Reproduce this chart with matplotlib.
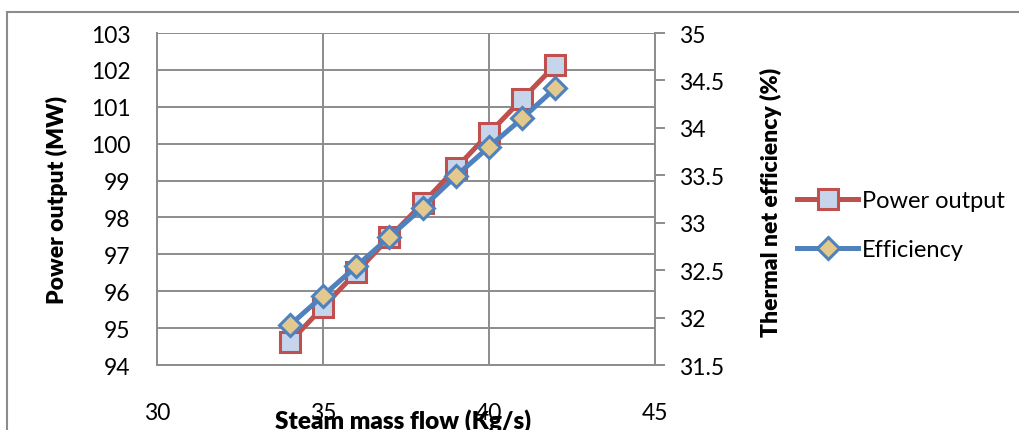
import matplotlib
matplotlib.use("Agg")
import matplotlib.pyplot as plt
from matplotlib.patches import Rectangle

plt.rcParams['font.family'] = ['Lato', 'DejaVu Sans']

# Steam mass flow (kg/s)
steam_flow = [34, 35, 36, 37, 38, 39, 40, 41, 42]
# Power output (MW)
power_output = [94.62, 95.57, 96.51, 97.46, 98.38, 99.33, 100.28, 101.21, 102.13]
# Thermal net efficiency (%)
efficiency = [31.92, 32.23, 32.54, 32.85, 33.16, 33.49, 33.80, 34.10, 34.42]

x_ticks = [30, 35, 40, 45]
power_ticks = list(range(94, 104))
eff_ticks = [31.5, 32, 32.5, 33, 33.5, 34, 34.5, 35]
eff_tick_labels = ['31.5', '32', '32.5', '33', '33.5', '34', '34.5', '35']

W, H = 1019, 431
fig = plt.figure(figsize=(W / 100, H / 100), dpi=100)

grid_col = '#8c8c8c'
red = '#C0504D'
blue = '#4F81BD'

ax = fig.add_axes([157 / W, 1 - 366 / H, (655 - 157) / W, (366 - 34) / H])
ax2 = ax.twinx()

ax.set_xlim(30, 45)
ax.set_ylim(94, 103)
ax2.set_ylim(31.5, 35)
ax.set_xticks(x_ticks)
ax.set_yticks(power_ticks)
ax2.set_yticks(eff_ticks)
ax2.set_yticklabels(eff_tick_labels)

ax.grid(True, color=grid_col, linewidth=1.4)
ax.set_axisbelow(True)

for s in ['top', 'right']:
    ax.spines[s].set_visible(False)
for s in ['left', 'bottom']:
    ax.spines[s].set_color(grid_col)
    ax.spines[s].set_linewidth(1.4)
for s in ['top', 'left', 'bottom']:
    ax2.spines[s].set_visible(False)
ax2.spines['right'].set_color(grid_col)
ax2.spines['right'].set_linewidth(1.4)

ax.tick_params(axis='y', length=0, labelsize=16.5, pad=19)
ax.tick_params(axis='x', length=0, labelsize=16.5, pad=27)
ax2.tick_params(axis='y', length=7, width=1.4, color=grid_col, labelsize=16.5, pad=10)

l1, = ax.plot(steam_flow, power_output, color=red, linewidth=3.6, marker='s',
              markersize=14, markerfacecolor='#C6D5EC', markeredgecolor=red,
              markeredgewidth=2.2, label='Power output', zorder=3)
l2, = ax2.plot(steam_flow, efficiency, color=blue, linewidth=3.6, marker='D',
               markersize=11, markerfacecolor='#E3C98E', markeredgecolor=blue,
               markeredgewidth=2.2, label='Efficiency', zorder=4)

fig.text(57 / W, 1 - 200 / H, 'Power output (MW)', rotation=90, fontsize=16.5,
         fontweight='heavy', ha='center', va='center')
fig.text(771 / W, 1 - 202 / H, 'Thermal net efficiency (%)', rotation=90,
         fontsize=16.5, fontweight='heavy', ha='center', va='center')
fig.text(403 / W, 1 - 421 / H, 'Steam mass flow (Kg/s)', fontsize=17.5,
         fontweight='heavy', ha='center', va='center')

fig.legend(handles=[l1, l2], loc='center left',
           bbox_to_anchor=(797 / W, 1 - 226 / H), frameon=False, fontsize=17,
           handlelength=2.6, handletextpad=0.15, labelspacing=1.2,
           borderpad=0, borderaxespad=0)

# outer chart frame
fig.patches.append(Rectangle((7 / W, -0.2), 1.5, 1.2 - 13 / H,
                             transform=fig.transFigure, fill=False,
                             edgecolor='#8c8c8c', linewidth=1.5))

fig.savefig('out.png', dpi=100)
